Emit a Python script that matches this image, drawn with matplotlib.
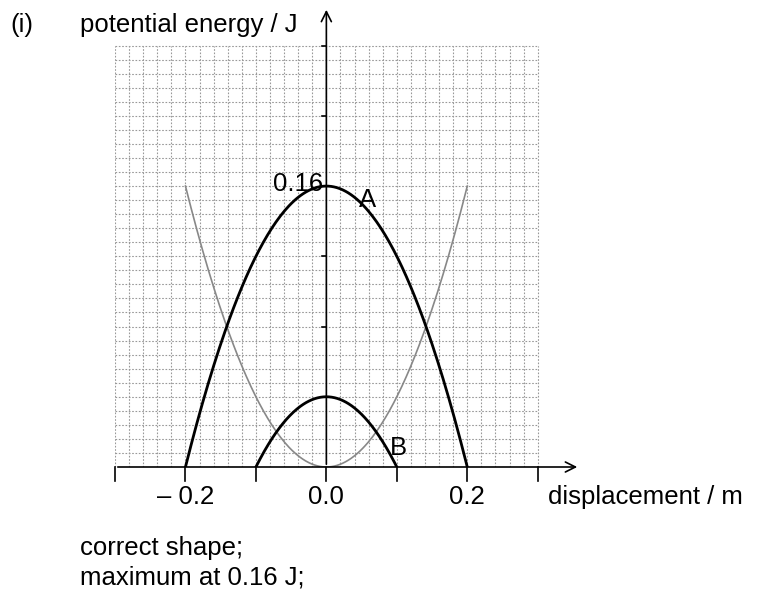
import numpy as np
import matplotlib.pyplot as plt

# curves
x_grey = np.linspace(-0.2, 0.2, 200)
k_grey = 0.16 / 0.2**2
x_a = np.linspace(-0.2, 0.2, 200)
peak_a = 0.16
x_b = np.linspace(-0.1, 0.1, 200)
peak_b = 0.04
xtick_vals = [-0.2, 0.0, 0.2]
xtick_labels = ['\u2013 0.2', '0.0', '0.2']

plt.rcParams['font.family'] = ['Liberation Sans', 'DejaVu Sans']
fs = 18.5
fig = plt.figure(figsize=(7.68, 6.07), dpi=100)
ax = fig.add_axes([115/768, 1 - 467/607, 465/768, 460/607])
ax.set_xlim(-0.3, 0.36)
ax.set_ylim(0, 0.262)
ax.axis('off')

# dotted grid
for gx in np.arange(-0.3, 0.3001, 0.02):
    ax.plot([gx, gx], [0, 0.24], color='#999999', lw=0.8, ls=(0, (1.5, 1.5)))
for gy in np.arange(0, 0.2401, 0.008):
    ax.plot([-0.3, 0.3], [gy, gy], color='#999999', lw=0.8, ls=(0, (1.5, 1.5)))

# axes with arrows
ax.annotate('', xy=(0.36, 0), xytext=(-0.3, 0),
            arrowprops=dict(arrowstyle='->', lw=1.2, color='black', mutation_scale=18))
ax.annotate('', xy=(0, 0.262), xytext=(0, 0),
            arrowprops=dict(arrowstyle='->', lw=1.2, color='black', mutation_scale=18))
for tx in np.arange(-0.3, 0.301, 0.1):
    ax.plot([tx, tx], [0, -0.008], color='black', lw=1.2, clip_on=False)
for ty in np.arange(0.04, 0.241, 0.04):
    ax.plot([-0.006, 0], [ty, ty], color='black', lw=1.2)

ax.plot(x_grey, k_grey * x_grey**2, color='#888888', lw=1.2)
ax.plot(x_a, peak_a * (1 - (x_a / 0.2)**2), color='black', lw=2)
ax.plot(x_b, peak_b * (1 - (x_b / 0.1)**2), color='black', lw=2)

for v, lab in zip(xtick_vals, xtick_labels):
    ax.text(v, -0.017, lab, ha='center', va='center', fontsize=fs, clip_on=False)
ax.text(-0.005, 0.161, '0.16', ha='right', va='center', fontsize=fs)
ax.text(0.058, 0.152, 'A', ha='center', va='center', fontsize=fs)
ax.text(0.103, 0.011, 'B', ha='center', va='center', fontsize=fs)

fig.text(10/768, 1 - 25/607, '(i)', fontsize=fs, va='center')
fig.text(80/768, 1 - 25/607, 'potential energy / J', fontsize=fs, va='center')
fig.text(548/768, 1 - 497/607, 'displacement / m', fontsize=fs, va='center')
fig.text(80/768, 1 - 548/607, 'correct shape;', fontsize=fs, va='center')
fig.text(80/768, 1 - 578/607, 'maximum at 0.16 J;', fontsize=fs, va='center')

fig.savefig('out.png', dpi=100)
